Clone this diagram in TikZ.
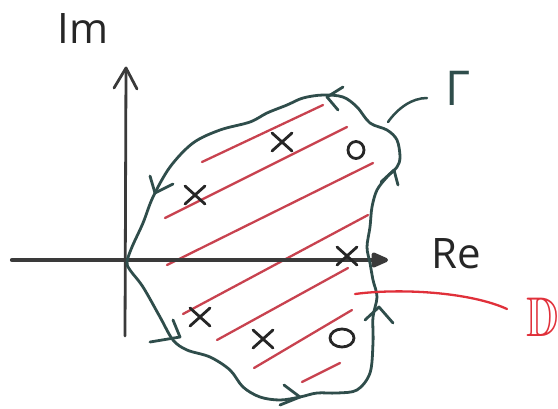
\documentclass[tikz,border=0pt]{standalone}
\usepackage{fontspec}
\usepackage{amssymb}
\setmainfont{Open Sans}
\usetikzlibrary{arrows.meta}
\definecolor{contourcol}{HTML}{2F4D4B}
\definecolor{hatchcol}{HTML}{C8424F}
\definecolor{domcol}{HTML}{E0303A}
\definecolor{axiscol}{HTML}{3A3A3A}
\tikzset{
  axisline/.style={draw=axiscol, line cap=round, line join=round},
  contour/.style={draw=contourcol, line width=2.8pt, line cap=round, line join=round},
  barb/.style={draw=contourcol, line width=2.8pt, line cap=round, line join=round},
  hatch/.style={draw=hatchcol, line width=2.3pt, line cap=round},
  pole/.style={draw=black!85, line width=2.8pt, line cap=round},
  zero/.style={draw=black!85, line width=2.8pt},
  lbl/.style={inner sep=0pt, font=\fontsize{42}{48}\selectfont, text=black!85},
}
\begin{document}
\begin{tikzpicture}[x=1pt, y=-1pt]
\useasboundingbox (0,0) rectangle (558,408);

% shaded region D: parallel red strokes
\draw[hatch] (202,162) -- (323,105);
\draw[hatch] (165,218) -- (347,127);
\draw[hatch] (167,265) -- (373,163);
\draw[hatch] (183,314) -- (368,215);
\draw[hatch] (217,340) -- (348,268);
\draw[hatch] (254,368) -- (352,310);
\draw[hatch] (302,382) -- (340,363);

% real axis
\draw[axisline, line width=4.2pt, -{Triangle[length=20pt, width=16pt, round]}] (12,260) -- (388,260);
% imaginary axis
\draw[axisline, line width=2.8pt] (125,336) -- (126,68);
\draw[axisline, line width=2.8pt] (114,88) -- (126,68) -- (137,89);

% contour Gamma
\draw[contour] plot[smooth cycle, tension=0.55] coordinates {
  (127,262) (132,247) (143,223) (153,197) (170,167) (193,143) (220,130)
  (250,122) (267,113) (287,105) (303,98) (323,95) (343,97) (357,107)
  (370,123) (387,130) (397,140) (400,157) (397,167) (387,177) (377,190)
  (372,207) (370,227) (367,247) (370,263) (373,280) (377,297) (373,317)
  (373,343) (370,373) (357,390) (337,393) (317,393) (300,397) (280,400)
  (260,397) (243,387) (230,370) (210,357) (187,350) (173,340) (160,317)
  (143,287) (130,270)};

% orientation marks along the contour
\draw[barb] (343,87) -- (327,97) -- (338,110);
\draw[barb] (150,176) -- (155,193) -- (173,184);
\draw[barb] (173,320) -- (180,337) -- (150,342);
\draw[barb] (284,385) -- (300,397) -- (280,405);
\draw[barb] (365,320) -- (379,307) -- (393,323);
\draw[barb] (381,182) -- (394,170) -- (398,185);

% poles
\foreach \px/\py in {195/195, 282/142, 347/256, 200/317, 263/339} {
  \draw[pole] (\px-10,\py-9) -- (\px+10,\py+9);
  \draw[pole] (\px-10,\py+9) -- (\px+10,\py-9);
}
% zeros
\draw[zero] (356,150) ellipse [x radius=8pt, y radius=8.5pt];
\draw[zero] (342,338) ellipse [x radius=12pt, y radius=9pt];

% labels
\node[lbl] (im) at (83,29) {Im};
\node[lbl] (re) at (456,254) {Re};
\node[lbl, font=\fontsize{48}{54}\selectfont, text=contourcol] (gam) at (458,88) {Γ};
\node[inner sep=0pt, text=domcol, font=\fontsize{56}{60}\selectfont, xscale=0.8] (dom) at (543,317) {$\mathbb{D}$};

% pointers to the labels
\coordinate (gtail) at (388,122);
\coordinate (ghead) at (427,98);
\draw[contour, line width=2.5pt] (gtail) .. controls (398,108) and (412,98) .. (ghead);
\coordinate (dtail) at (355,294);
\coordinate (dhead) at (507,309);
\draw[hatch, draw=domcol] (dtail) .. controls (400,288) and (470,292) .. (dhead);
\end{tikzpicture}
\end{document}
